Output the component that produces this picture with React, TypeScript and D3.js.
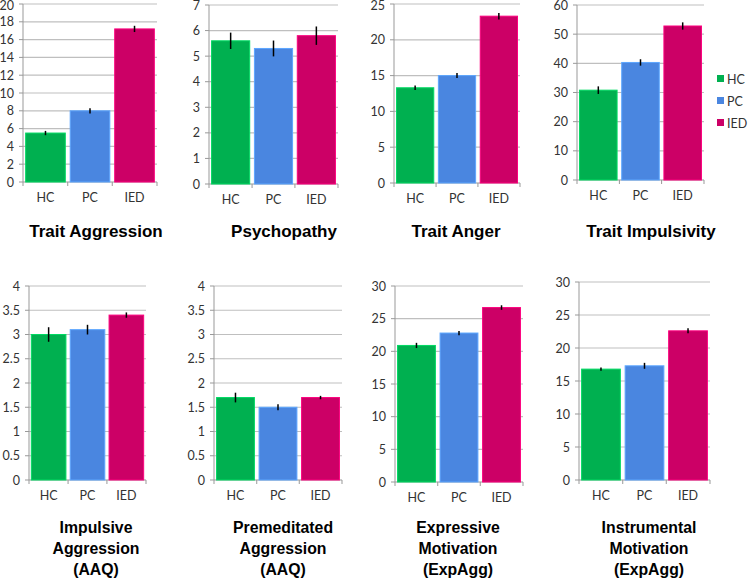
import * as d3 from "d3";

const groups = ["HC", "PC", "IED"];
const groupColors = ["#00b050", "#4a86e0", "#cc0066"];

const titles = [
  ["Trait Aggression"],
  ["Psychopathy"],
  ["Trait Anger"],
  ["Trait Impulsivity"],
  ["Impulsive", "Aggression", "(AAQ)"],
  ["Premeditated", "Aggression", "(AAQ)"],
  ["Expressive", "Motivation", "(ExpAgg)"],
  ["Instrumental", "Motivation", "(ExpAgg)"],
];

const means = [
  [5.5, 8.0, 17.2],
  [5.6, 5.3, 5.8],
  [13.3, 15.0, 23.3],
  [30.8, 40.3, 52.8],
  [3.0, 3.1, 3.4],
  [1.7, 1.5, 1.7],
  [20.9, 22.8, 26.7],
  [16.8, 17.3, 22.6],
];

const errors = [
  [0.24, 0.3, 0.35],
  [0.32, 0.31, 0.36],
  [0.3, 0.35, 0.45],
  [1.3, 1.1, 1.25],
  [0.15, 0.1, 0.055],
  [0.1, 0.06, 0.035],
  [0.4, 0.33, 0.35],
  [0.25, 0.45, 0.38],
];

const yMax = [20, 7, 25, 60, 4, 4, 30, 30];
const yStep = [2, 1, 5, 10, 0.5, 0.5, 5, 5];

// plot boxes: [left, right, top, bottom]
const boxes = [
  [23, 157, 4, 182],
  [209, 338, 5, 184],
  [394, 520, 4, 183],
  [577, 704, 5, 180],
  [29, 146, 286, 480],
  [214, 342, 286, 480],
  [395, 523, 286, 482],
  [579, 710, 282, 480],
];
const titleX = [96, 284, 456, 651, 96, 283, 458, 649];
const titleY = [237, 237, 237, 237, 533, 533, 533, 533];

const labelFont = "Lato, 'Open Sans', sans-serif";
const titleFont = "'Liberation Sans', Arial, sans-serif";

function Panel({ i }: { i: number }) {
  const [left, right, top, bottom] = boxes[i];
  const x = d3.scaleBand().domain(groups).range([left, right]).paddingInner(0.11).paddingOuter(0.06);
  const y = d3.scaleLinear().domain([0, yMax[i]]).range([bottom, top]);
  const ticks = d3.range(0, yMax[i] + yStep[i] / 2, yStep[i]);
  const fmt = (v: number) => (Number.isInteger(v) ? String(v) : v.toFixed(1));
  const step = x.step();
  const edges = [left, ...groups.map((g) => (x(g) as number) + x.bandwidth() + (step - x.bandwidth()) / 2)];
  edges[edges.length - 1] = right;
  const multi = titles[i].length > 1;

  return (
    <g>
      {ticks.map((t) => (
        <g key={t}>
          {t > 0 && <line x1={left} x2={right} y1={y(t)} y2={y(t)} stroke="#bfbfbf" strokeWidth={1.2} />}
          <line x1={left - 4} x2={left} y1={y(t)} y2={y(t)} stroke="#999" />
          <text x={left - 9} y={Math.max(y(t) + 4.5, 10)} textAnchor="end" fontSize={12.5} fontFamily={labelFont} fill="#333">
            {fmt(t)}
          </text>
        </g>
      ))}
      <line x1={left} x2={left} y1={top} y2={bottom} stroke="#999" />
      <line x1={left} x2={right} y1={bottom} y2={bottom} stroke="#999" />
      {edges.map((e, k) => (
        <line key={k} x1={e} x2={e} y1={bottom} y2={bottom + 4} stroke="#999" />
      ))}
      {groups.map((g, k) => {
        const bx = x(g) as number;
        const v = means[i][k];
        const e = errors[i][k];
        const cx = bx + x.bandwidth() / 2;
        return (
          <g key={g}>
            <rect x={bx} y={y(v)} width={x.bandwidth()} height={bottom - y(v)} fill={groupColors[k]}
              stroke={d3.color(groupColors[k])!.brighter(0.6).toString()} strokeWidth={1} />
            <line x1={cx} x2={cx} y1={y(v + e)} y2={y(v - e)} stroke="#000" strokeWidth={1.5} />
            <text x={cx} y={bottom + 20} textAnchor="middle" fontSize={12.5} fontFamily={labelFont} fill="#333">
              {g}
            </text>
          </g>
        );
      })}
      {titles[i].map((line, k) => (
        <text key={k} x={titleX[i]} y={titleY[i] + k * 20.8} textAnchor="middle" fontSize={multi ? 15.8 : 17}
          fontWeight="bold" fontFamily={titleFont} fill="#000">
          {line}
        </text>
      ))}
    </g>
  );
}

export default function App() {
  const legendX = 717;
  const legendY = d3.scalePoint().domain(groups).range([79, 123]);
  return (
    <svg width={750} height={578} style={{ position: "absolute", left: 0, top: 0, background: "#fff" }}>
      <rect width={750} height={578} fill="#fff" />
      {means.map((_, i) => (
        <Panel key={i} i={i} />
      ))}
      {groups.map((g, k) => (
        <g key={g}>
          <rect x={legendX} y={(legendY(g) as number) - 4} width={7} height={7} fill={groupColors[k]} />
          <text x={legendX + 10} y={(legendY(g) as number) + 4.5} fontSize={12.5} fontFamily={labelFont} fill="#333">
            {g}
          </text>
        </g>
      ))}
    </svg>
  );
}
